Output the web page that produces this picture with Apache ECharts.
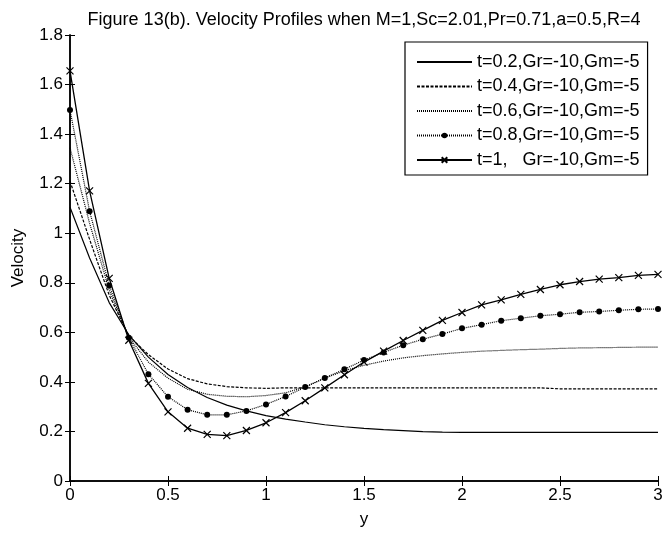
<!DOCTYPE html>
<html>
<head>
<meta charset="utf-8">
<script src="https://cdn.jsdelivr.net/npm/echarts@6/dist/echarts.min.js"></script>
<style>html,body{margin:0;padding:0;background:#fff}#c{width:666px;height:533px}</style>
</head>
<body>
<div id="c"></div>
<script>
var yPos = [0,0.1,0.2,0.3,0.4,0.5,0.6,0.7,0.8,0.9,1.0,1.1,1.2,1.3,1.4,1.5,1.6,1.7,1.8,1.9,2.0,2.1,2.2,2.3,2.4,2.5,2.6,2.7,2.8,2.9,3.0];
var v_t02 = [1.105,0.9,0.72,0.59,0.5,0.43,0.377,0.337,0.306,0.283,0.264,0.25,0.238,0.227,0.219,0.212,0.207,0.203,0.199,0.197,0.196,0.196,0.196,0.196,0.196,0.196,0.196,0.196,0.196,0.196,0.196];
var v_t04 = [1.21,0.975,0.75,0.585,0.51,0.452,0.413,0.392,0.381,0.376,0.374,0.376,0.376,0.376,0.376,0.376,0.376,0.376,0.376,0.376,0.376,0.376,0.376,0.376,0.376,0.372,0.372,0.372,0.372,0.372,0.372];
var v_t06 = [1.345,1.04,0.77,0.58,0.48,0.415,0.37,0.35,0.342,0.34,0.345,0.356,0.38,0.415,0.445,0.467,0.484,0.497,0.506,0.513,0.519,0.524,0.527,0.53,0.532,0.535,0.537,0.538,0.539,0.54,0.54];
var v_t08 = [1.497,1.089,0.789,0.578,0.431,0.34,0.288,0.267,0.267,0.283,0.309,0.341,0.379,0.416,0.451,0.488,0.519,0.548,0.572,0.593,0.616,0.631,0.647,0.657,0.667,0.673,0.681,0.684,0.689,0.693,0.694];
var v_t1  = [1.655,1.171,0.818,0.568,0.394,0.279,0.213,0.188,0.183,0.204,0.235,0.276,0.324,0.376,0.429,0.48,0.524,0.567,0.608,0.648,0.68,0.711,0.731,0.753,0.773,0.792,0.805,0.815,0.821,0.83,0.834];
var seriesNames = ['t=0.2,Gr=-10,Gm=-5','t=0.4,Gr=-10,Gm=-5','t=0.6,Gr=-10,Gm=-5','t=0.8,Gr=-10,Gm=-5','t=1,   Gr=-10,Gm=-5'];
var titleText = 'Figure 13(b). Velocity Profiles when M=1,Sc=2.01,Pr=0.71,a=0.5,R=4';

function pairs(v){ return yPos.map(function(x,i){ return [x, v[i]]; }); }
var FONT = 'Liberation Sans, Arial, sans-serif';
var chart = echarts.init(document.getElementById('c'), null, {renderer:'canvas'});
var axisCommon = {
  axisLine:{show:true, lineStyle:{color:'#000', width:1.5}},
  axisTick:{show:true, inside:true, length:5, lineStyle:{color:'#000', width:1}},
  splitLine:{show:false}
};
var crossPath = 'path://M0,0L10,10M10,0L0,10';
var hidden = {color:'rgba(0,0,0,0)', borderColor:'rgba(0,0,0,0)', borderWidth:0, opacity:0};
chart.setOption({
  animation:false,
  backgroundColor:'#fff',
  title:{text:titleText, left:359, textAlign:'center', top:6,
    textStyle:{fontFamily:FONT, fontSize:18, fontWeight:'normal', color:'#000'}},
  grid:{left:70, right:8, top:35, bottom:48},
  legend:{
    orient:'vertical', left:405, top:42,
    backgroundColor:'#fff', borderColor:'#000', borderWidth:1.2,
    padding:[11,8,6,11], itemWidth:55, itemHeight:7, itemGap:6.5,
    textStyle:{fontFamily:FONT, fontSize:18, color:'#000'},
    data:[
      {name:seriesNames[0], itemStyle:hidden},
      {name:seriesNames[1], itemStyle:hidden},
      {name:seriesNames[2], itemStyle:hidden},
      {name:seriesNames[3]},
      {name:seriesNames[4]}
    ]
  },
  xAxis:[
    Object.assign({type:'value', min:0, max:3, interval:0.5, position:'bottom',
      name:'y', nameLocation:'middle', nameGap:30,
      nameTextStyle:{fontFamily:FONT, fontSize:17, color:'#000'},
      axisLabel:{fontFamily:FONT, fontSize:17, color:'#000', margin:6}}, axisCommon),
    Object.assign({type:'value', min:0, max:3, interval:0.5, position:'top',
      axisLabel:{show:false}}, axisCommon)
  ],
  yAxis:[
    Object.assign({type:'value', min:0, max:1.8, interval:0.2, position:'left',
      name:'Velocity', nameLocation:'middle', nameGap:43, nameRotate:90,
      nameTextStyle:{fontFamily:FONT, fontSize:17, color:'#000'},
      axisLabel:{fontFamily:FONT, fontSize:17, color:'#000', margin:7}}, axisCommon),
    Object.assign({type:'value', min:0, max:1.8, interval:0.2, position:'right',
      axisLabel:{show:false}}, axisCommon)
  ],
  series:[
    {name:seriesNames[0], type:'line', data:pairs(v_t02), showSymbol:false, symbol:'circle',
      lineStyle:{color:'#000', width:1.2, type:'solid'}, itemStyle:{color:'#000'}},
    {name:seriesNames[1], type:'line', data:pairs(v_t04), showSymbol:false, symbol:'circle',
      lineStyle:{color:'#000', width:1.2, type:[3,1.5]}, itemStyle:{color:'#000'}},
    {name:seriesNames[2], type:'line', data:pairs(v_t06), showSymbol:false, symbol:'circle',
      lineStyle:{color:'#000', width:1.2, type:[1,1]}, itemStyle:{color:'#000'}},
    {name:seriesNames[3], type:'line', data:pairs(v_t08), symbol:'circle', symbolSize:6,
      lineStyle:{color:'#000', width:1.2, type:[1,1]}, itemStyle:{color:'#000'}},
    {name:seriesNames[4], type:'line', data:pairs(v_t1), symbol:crossPath, symbolSize:7,
      lineStyle:{color:'#000', width:1.3, type:'solid'},
      itemStyle:{color:'rgba(0,0,0,0)', borderColor:'#000', borderWidth:1.2}}
  ]
});
</script>
</body>
</html>
